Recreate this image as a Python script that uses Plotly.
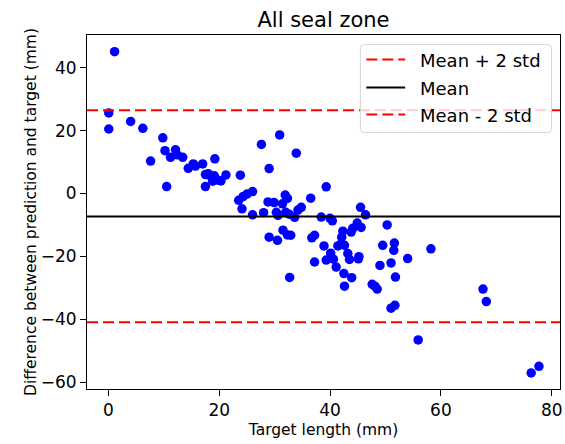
import plotly.graph_objects as go

# Data
target_length = [
    1.1, 0.05, 0.05, 4.0, 6.2, 9.8, 7.6, 10.2, 12.1, 11.2, 12.4, 13.4, 10.5, 14.4, 15.3,
    15.7, 17.0, 19.2, 17.5, 18.0, 18.5, 19.1, 18.8, 19.8, 20.3, 21.2, 17.5,
    23.8, 23.5, 24.3, 25.0, 24.1, 26.0, 26.0, 27.6, 29.0, 28.0, 28.8, 29.9, 30.3, 30.6,
    29.0, 30.5, 30.9, 31.5, 31.4, 31.9, 32.3, 32.0, 32.6, 32.3, 32.9, 32.7, 33.6, 33.9,
    34.2, 34.8, 36.5, 36.7, 37.2, 37.2, 38.4, 39.3, 40.0, 40.4, 38.9, 39.3, 40.1, 40.6,
    41.1, 41.4, 42.3, 42.1, 42.0, 42.6, 43.2, 43.5, 42.5, 42.6, 43.9, 43.8, 44.1, 44.9,
    45.6, 45.2, 45.1, 45.5, 46.4, 47.6, 48.1, 48.5, 49.0, 49.5, 50.3, 51.0, 51.5, 51.6,
    51.8, 51.0, 51.7, 54.0, 58.2, 55.9, 67.6, 68.2, 76.3, 77.7,
]
difference = [
    45.1, 25.6, 20.5, 22.9, 20.7, 17.7, 10.3, 13.6, 13.9, 11.5, 12.3, 11.5, 2.2, 8.0, 9.4,
    8.7, 9.4, 11.0, 6.0, 6.3, 5.4, 5.6, 3.9, 4.2, 4.0, 5.9, 2.2,
    5.8, -2.2, -1.0, -0.2, -4.9, 0.6, -6.8, 15.6, 7.9, -6.1, -2.7, -2.9, -6.0, -7.0,
    -13.9, -14.9, 18.6, -11.7, -3.3, -0.5, -1.6, -6.0, -6.6, -13.2, -13.3, -26.7, -7.6, 12.8,
    -5.3, -4.4, -1.5, -14.1, -13.3, -21.8, -7.5, 2.1, -7.9, -8.7, -16.7, -21.2, -19.0, -20.9,
    -23.4, -16.7, -12.0, -13.9, -16.0, -16.5, -19.1, -21.0, -25.5, -29.5, -26.8, -12.3, -11.1, -9.4,
    -10.8, -20.1, -20.8, -4.4, -6.8, -28.9, -29.5, -30.4, -22.9, -16.5, -10.0, -22.1, -18.1, -15.8,
    -26.6, -36.5, -35.6, -20.7, -17.6, -46.6, -30.4, -34.4, -57.1, -55.0,
]
mean_diff = -7.35
upper_limit = 26.45
lower_limit = -41.0
legend_labels = ["Mean + 2 std", "Mean", "Mean - 2 std"]
x_ticks = [0, 20, 40, 60, 80]
y_ticks = [-60, -40, -20, 0, 20, 40]

FONT = "DejaVu Sans"
W, H = 565, 444
ML, MR, MT, MB = 87, 3, 35, 55
PW, PH = W - ML - MR, H - MT - MB

def px_x(p):
    return (p - ML) / PW

def px_y(p):
    return (H - MB - p) / PH

fig = go.Figure()

fig.add_trace(go.Scatter(
    x=target_length, y=difference, mode="markers",
    marker=dict(color="#0000ff", size=9.5, line=dict(width=0)),
    showlegend=False, hoverinfo="skip",
))

RED_DASH = "11px,5px"
line_styles = [
    (upper_limit, "#ff0000", RED_DASH),
    (mean_diff, "#000000", "solid"),
    (lower_limit, "#ff0000", RED_DASH),
]
for yv, col, dash in line_styles:
    fig.add_hline(y=yv, line=dict(color=col, width=2, dash=dash), layer="above")

# Legend box (matplotlib style, rounded corners, semi-transparent)
bx0, bx1 = px_x(361.5), px_x(553.5)
by1, by0 = px_y(44.5), px_y(132.5)
rx, ry = 4 / PW, 4 / PH
path = (f"M {bx0+rx},{by1} L {bx1-rx},{by1} Q {bx1},{by1} {bx1},{by1-ry} "
        f"L {bx1},{by0+ry} Q {bx1},{by0} {bx1-rx},{by0} "
        f"L {bx0+rx},{by0} Q {bx0},{by0} {bx0},{by0+ry} "
        f"L {bx0},{by1-ry} Q {bx0},{by1} {bx0+rx},{by1} Z")
fig.add_shape(type="path", path=path, xref="paper", yref="paper",
              fillcolor="rgba(255,255,255,0.8)", line=dict(color="#d5d5d5", width=1),
              layer="above")

rows_px = [59.5, 87.5, 114.5]
for (yv, col, dash), label, rp in zip(line_styles, legend_labels, rows_px):
    fig.add_shape(type="line", xref="paper", yref="paper",
                  x0=px_x(367.5), x1=px_x(406.5), y0=px_y(rp), y1=px_y(rp),
                  line=dict(color=col, width=2, dash=dash), layer="above")
    fig.add_annotation(text=label, xref="paper", yref="paper",
                       x=px_x(419), y=px_y(rp + 1), xanchor="left", yanchor="middle",
                       showarrow=False, font=dict(size=18, family=FONT, color="#000000"))

fig.update_layout(
    width=W, height=H,
    margin=dict(l=ML, r=MR, t=MT, b=MB),
    paper_bgcolor="white", plot_bgcolor="white",
    font=dict(family=FONT, color="#000000"),
    title=dict(text="All seal zone", x=0.5, xref="paper", xanchor="center",
               y=1 - 20 / H, yref="container", yanchor="middle",
               font=dict(size=21, family=FONT)),
    showlegend=False,
)
fig.update_xaxes(
    range=[-3.88, 81.5], tickvals=x_ticks, showgrid=False, zeroline=False,
    showline=True, linecolor="#000000", linewidth=1, mirror=True,
    ticks="outside", ticklen=6, tickcolor="#000000", tickwidth=1,
    tickfont=dict(size=17, family=FONT),
    title=dict(text="Target length (mm)", font=dict(size=15.5, family=FONT), standoff=4),
)
fig.update_yaxes(
    range=[-62.2, 50.4], tickvals=y_ticks, showgrid=False, zeroline=False,
    showline=True, linecolor="#000000", linewidth=1, mirror=True,
    ticks="outside", ticklen=6, tickcolor="#000000", tickwidth=1,
    tickfont=dict(size=17, family=FONT),
    title=dict(text="Difference between prediction and target (mm)",
               font=dict(size=15.5, family=FONT), standoff=0),
)

fig.write_html("out.html", config={"displayModeBar": False},
               post_script="document.body.style.margin='0';")
